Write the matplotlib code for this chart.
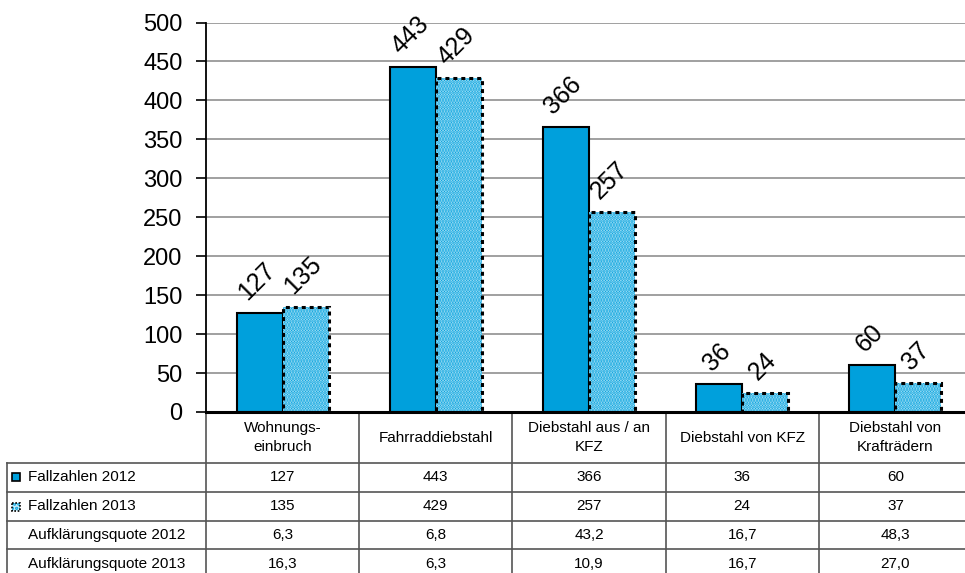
import matplotlib.pyplot as plt
from matplotlib.patches import Rectangle

categories = ["Wohnungs-\neinbruch", "Fahrraddiebstahl", "Diebstahl aus / an\nKFZ",
              "Diebstahl von KFZ", "Diebstahl von\nKrafträdern"]
fall_2012 = [127, 443, 366, 36, 60]
fall_2013 = [135, 429, 257, 24, 37]
quote_2012 = [6.3, 6.8, 43.2, 16.7, 48.3]
quote_2013 = [16.3, 6.3, 10.9, 16.7, 27.0]
row_labels = ["Fallzahlen 2012", "Fallzahlen 2013",
              "Aufklärungsquote 2012", "Aufklärungsquote 2013"]
y_ticks = list(range(0, 501, 50))

BLUE = "#00a0dc"
LIGHT = "#c4ebfa"

plt.rcParams["font.family"] = ["Liberation Sans", "DejaVu Sans"]
plt.rcParams["hatch.linewidth"] = 1.6

W, H = 965, 573
fig = plt.figure(figsize=(W / 100, H / 100), dpi=100)

# chart area in pixels
left, right, top, bottom = 206, 972, 22.5, 412
ax = fig.add_axes([left / W, (H - bottom) / H, (right - left) / W, (bottom - top) / H])

n = len(categories)
x = list(range(n))
bw = 0.3


def draw_2012(a, xs, vals, width):
    a.bar(xs, vals, width, color=BLUE, edgecolor="black", linewidth=1.5, zorder=3)


def draw_2013(a, xs, vals, width):
    a.bar(xs, vals, width, color=LIGHT, edgecolor=BLUE, hatch="......", linewidth=0, zorder=3)
    a.bar(xs, vals, width, fill=False, edgecolor="black", linewidth=2.2,
          linestyle=(0, (1.3, 1.3)), zorder=4)


draw_2012(ax, [i - bw / 2 for i in x], fall_2012, bw)
draw_2013(ax, [i + bw / 2 for i in x], fall_2013, bw)

for i in x:
    for dx, v in ((-bw / 2, fall_2012[i]), (bw / 2, fall_2013[i])):
        ax.annotate(str(v), (i + dx, v), xytext=(-2, 6), textcoords="offset points",
                    rotation=45, ha="center", va="bottom", fontsize=18)

ax.set_xlim(-0.5, n - 0.5)
ax.set_ylim(0, 500)
ax.set_yticks(y_ticks)
ax.tick_params(axis="y", length=7, width=1.2, pad=10, labelsize=17)
ax.tick_params(axis="x", bottom=False, labelbottom=False)
ax.yaxis.grid(True, color="#999999", linewidth=1.3, zorder=0)
ax.set_axisbelow(True)
for s in ("top", "right"):
    ax.spines[s].set_visible(False)
ax.spines["left"].set_linewidth(1.3)
ax.spines["bottom"].set_linewidth(2.2)
ax.spines["bottom"].set_zorder(5)

# data table below the chart, drawn in pixel coordinates
tab = fig.add_axes([0, 0, 1, 1], zorder=-1)
tab.set_xlim(0, W)
tab.set_ylim(H, 0)
tab.axis("off")

cw = (right - left) / n
head_bottom = 463
rh = 28.8
label_left = 7
line_kw = dict(color="#555555", linewidth=1.2)
rows = [fall_2012, fall_2013,
        [f"{v:.1f}".replace(".", ",") for v in quote_2012],
        [f"{v:.1f}".replace(".", ",") for v in quote_2013]]
table_bottom = head_bottom + rh * len(rows)

for k in range(n + 1):
    tab.plot([left + k * cw] * 2, [bottom, table_bottom], **line_kw)
tab.plot([label_left] * 2, [head_bottom, table_bottom], **line_kw)
for r in range(len(rows) + 1):
    y = head_bottom + r * rh
    tab.plot([label_left, W + 10], [y, y], **line_kw)

fs = 11
for k, name in enumerate(categories):
    tab.text(left + (k + 0.5) * cw, (bottom + head_bottom) / 2, name,
             ha="center", va="center", fontsize=fs, linespacing=1.5)

for r, (label, vals) in enumerate(zip(row_labels, rows)):
    yc = head_bottom + (r + 0.5) * rh
    tab.text(28, yc, label, ha="left", va="center", fontsize=fs)
    for k, v in enumerate(vals):
        tab.text(left + (k + 0.5) * cw, yc, str(v), ha="center", va="center", fontsize=fs)

# legend keys in the label column
y1 = head_bottom + 0.5 * rh
tab.add_patch(Rectangle((12, y1 - 4), 8, 8, facecolor=BLUE, edgecolor="black", linewidth=1.2))
y2 = head_bottom + 1.5 * rh
tab.add_patch(Rectangle((12, y2 - 3), 8, 8, facecolor=LIGHT, edgecolor=BLUE, hatch="....",
                        linewidth=0))
tab.add_patch(Rectangle((12, y2 - 3), 8, 8, fill=False, edgecolor="black",
                        linewidth=1.2, linestyle=(0, (1, 1))))

fig.savefig("out.png", dpi=100)
